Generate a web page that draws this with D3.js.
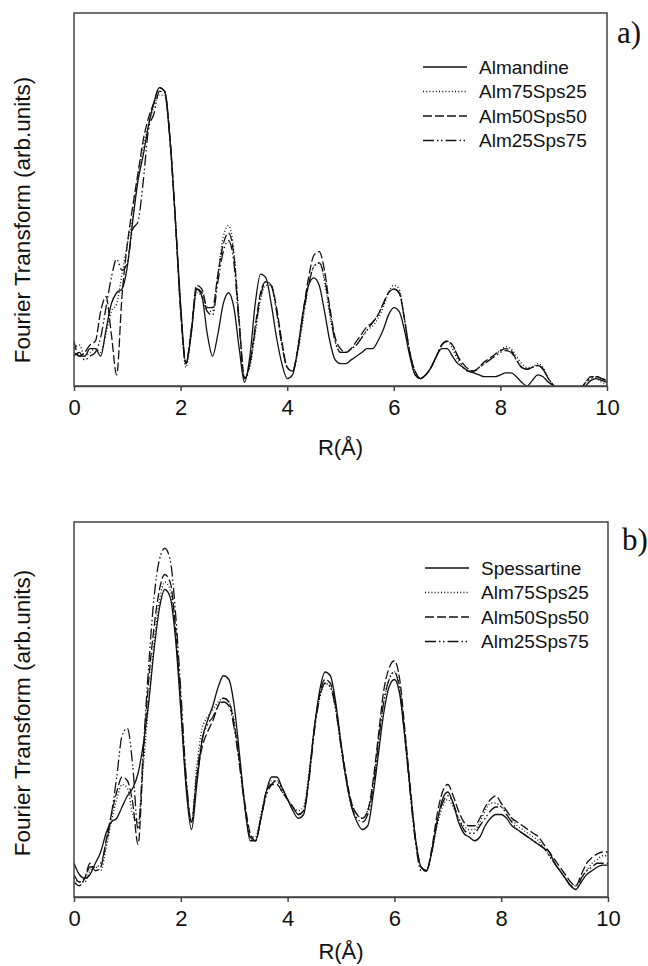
<!DOCTYPE html>
<html><head><meta charset="utf-8">
<script src="https://cdn.jsdelivr.net/npm/d3@7"></script>
<style>
html,body{margin:0;padding:0;background:#fff;}
svg{display:block;}
</style></head>
<body>
<svg id="chart" width="648" height="966"></svg>
<script>
// R grid (Å), shared by all series
const R = d3.range(0, 101).map(i => +(i * 0.1).toFixed(1));
const xTicks = [0, 2, 4, 6, 8, 10];
const seriesNamesA = ["Almandine", "Alm75Sps25", "Alm50Sps50", "Alm25Sps75"];
const seriesNamesB = ["Spessartine", "Alm75Sps25", "Alm50Sps50", "Alm25Sps75"];

// Panel a) values (arb. units)
const almandine = [9,8,8,10,10,8,15,22,25,26,32,44,55,62,70,76,80,79,66,45,22,6,14,26,24,14,8,14,22,25,21,10,1,8,22,30,29,22,13,6,2,3,10,20,27,29,27,20,12,7,6,6,7,8,9,10,10,12,15,19,21,20,15,8,3,2,3,5,8,10,10,8,6,5,4,3.5,3,2.5,2.5,2.5,3,3.5,3.5,2.5,1,0,1.5,3,2.5,1,0,-2,-4,-5,-4,-2,0,1.5,2,1.5,1];
const a_alm75 = [10,11,8,9,10,9,14,20,22,30,38,45,56,64,70,75,78,78,66,45,20,5,14,25,24,20,20,30,40,43,36,18,2,5,14,23,27,27,20,11,5,4,9,18,27,32,33,28,19,12,9,9,10,11,13,15,16,18,21,25,27,26,18,9,3,2,3,5,8,11,12,10,7,5,4,4,5,6,7,8.5,9.5,10.5,10,8,6,5,5,6,5,2,0,-3,-5,-5,-3,-1,1,2.5,2,1,0.5];
const a_alm50 = [12,8,9,11,12,20,24,14,3,24,38,48,57,66,72,76,80,79,67,45,20,6,15,27,26,21,21,30,38,41,35,17,2,6,16,25,28,27,21,12,5,4,10,20,29,35,36,31,21,13,10,9,10,12,14,16,17,19,22,25,26,25,18,9,4,2,3,5,8,11,12,11,8,6,4.5,4,5,6.5,7.5,8.5,9.5,10,9.5,7,5,4.5,5,5.5,4.5,2,0,-3,-5,-5,-3,-1,1,2.5,2.5,2,1];
const a_alm25 = [8,9,7,8,9,13,21,29,34,31,33,42,44,55,69,73,79,79,66,45,21,6,15,26,25,20,19,28,36,39,33,16,2,6,15,24,28,27,20,11,5,4,10,19,27,32,33,29,20,12,9,9,10,11,13,15,17,19,22,25,26,25,18,9,4,2,3,5,8,11,12,11,8,5,4,4,5,6,7,8,9,9.5,9,7,5,4.5,5,5.5,4.5,2,0,-3,-5,-5,-3,-1,1,2,2.5,2,1.5];

// Panel b) values (arb. units)
const spessartine = [9,6,5,6,9,12,17,20,21,24,27,29,33,41,52,66,77,82,80,69,50,29,18,30,42,47,51,56,59,58,51,38,24,15,15,21,28,32,32,29,26,23,21,22,32,45,55,60,59,52,41,31,24,20,18,19,27,38,49,56,58,54,42,28,15,8,7,12,20,26,28,25,20,17,16,15,16,19,21,22,22,21,19,18,17,16,15,14,13,12,9,7,5,3,2,4,6,7,8,8.5,8.5];
const b_alm75 = [5,4,4,7,8,7,13,20,26,30,29,22,20,35,52,68,79,84,82,70,50,30,20,35,45,48,50,52,53,52,47,36,24,16,16,22,28,31,31,28,26,24,23,24,33,45,53,57,56,50,40,31,25,22,21,23,30,41,52,58,60,56,43,28,15,8,7,12,19,24,26,24,21,19,18,18,20,23,25,25,24,23,21,19,18,17,16,15,13,11,9,7,5,3,3,5,7,9,10,11,11];
const b_alm50 = [4,3,5,9,7,8,15,22,28,32,31,25,14,38,58,72,82,86,84,72,52,31,20,32,40,44,47,51,53,52,46,36,25,17,15,21,28,30,30,28,26,24,22,23,32,45,54,58,57,51,41,32,25,22,21,23,31,43,55,61,63,58,44,29,15,8,7,13,22,28,30,27,23,20,19,19,21,24,26,27,25,23,21,20,19,18,17,16,14,12,10,8,6,4,3,6,9,10.5,11.5,12,12];
const b_alm25 = [6,4,5,8,8,9,14,22,32,43,45,35,18,40,62,80,90,93,90,76,55,32,20,33,42,46,48,51,52,51,45,35,24,16,15,21,27,30,31,29,26,24,22,23,31,44,53,57,56,50,40,31,24,21,20,22,29,41,52,58,60,55,42,27,14,7,7,12,20,25,27,25,21,18,17,17,19,21,23,24,24,22,20,18,17,16,15,14,13,11,9,7,5,3,2,5,7,8,9,9,9];

const dashes = [null, "1,2.2", "9,3", "11,3,1.5,2.5,1.5,3"];
const widths = [1.3, 1.3, 1.3, 1.3];

const svg = d3.select("#chart");
const FONT = "Liberation Sans, Arial, sans-serif";

function panel(cfg) {
  const {left, right, top, bottom, series, names, tag, tagX, tagY, legX, legY, ylabY, titleY, id} = cfg;
  const x = d3.scaleLinear().domain([0, 10]).range([left, right]);
  const y = d3.scaleLinear().domain([0, 100]).range([bottom, top]);
  const g = svg.append("g");
  g.append("clipPath").attr("id", id).append("rect")
    .attr("x", left).attr("y", top).attr("width", right - left).attr("height", bottom - top);
  const line = d3.line().x((d, i) => x(R[i])).y(d => y(d)).curve(d3.curveMonotoneX);
  series.forEach((s, k) => {
    g.append("path").attr("d", line(s)).attr("fill", "none")
      .attr("stroke", "#111").attr("stroke-width", widths[k])
      .attr("stroke-dasharray", dashes[k]).attr("clip-path", `url(#${id})`);
  });
  // frame
  g.append("rect").attr("x", left).attr("y", top).attr("width", right - left).attr("height", bottom - top)
    .attr("fill", "none").attr("stroke", "#444").attr("stroke-width", 1.5);
  // x axis
  const ax = g.append("g").attr("transform", `translate(0,${bottom})`)
    .call(d3.axisBottom(x).tickValues(xTicks).tickFormat(d3.format("d")).tickSize(5).tickSizeOuter(0));
  ax.select(".domain").attr("stroke", "#444").attr("stroke-width", 1.5);
  ax.selectAll(".tick line").attr("stroke", "#444").attr("stroke-width", 1.5);
  ax.selectAll(".tick text").attr("font-family", FONT)
    .attr("font-size", 22).attr("fill", "#111").attr("dy", "0.95em");
  g.append("text").attr("x", (left + right) / 2).attr("y", titleY)
    .attr("text-anchor", "middle").attr("font-family", FONT)
    .attr("font-size", 22).attr("fill", "#111").text("R(Å)");
  g.append("text").attr("transform", `translate(30,${ylabY}) rotate(-90)`)
    .attr("text-anchor", "middle").attr("font-family", FONT)
    .attr("font-size", 22.5).attr("fill", "#111").text("Fourier Transform (arb.units)");
  g.append("text").attr("x", tagX).attr("y", tagY).attr("font-family", "Liberation Serif, Times New Roman, serif")
    .attr("font-size", 31).attr("fill", "#111").text(tag);
  // legend
  names.forEach((n, k) => {
    const yy = legY + k * 24.5;
    g.append("line").attr("x1", legX).attr("x2", legX + 44).attr("y1", yy).attr("y2", yy)
      .attr("stroke", "#111").attr("stroke-width", 1.3).attr("stroke-dasharray", dashes[k]);
    g.append("text").attr("x", legX + 56).attr("y", yy).attr("dy", "0.35em")
      .attr("font-family", FONT).attr("font-size", 19)
      .attr("fill", "#111").text(n);
  });
}

panel({id: "clipA", left: 74, right: 607, top: 13, bottom: 386,
  series: [almandine, a_alm75, a_alm50, a_alm25], names: seriesNamesA,
  tag: "a)", tagX: 617, tagY: 43, legX: 423, legY: 67, ylabY: 220, titleY: 455});
panel({id: "clipB", left: 74, right: 608, top: 522, bottom: 897,
  series: [spessartine, b_alm75, b_alm50, b_alm25], names: seriesNamesB,
  tag: "b)", tagX: 622, tagY: 550, legX: 425, legY: 568, ylabY: 713, titleY: 959});
</script>
</body></html>
